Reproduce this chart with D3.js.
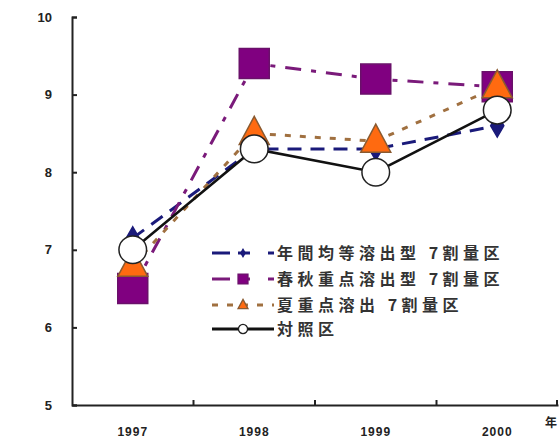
<!DOCTYPE html>
<html><head><meta charset="utf-8">
<script src="https://cdn.jsdelivr.net/npm/d3@7"></script>
<style>body{margin:0;background:#fff}</style>
</head><body>
<svg id="c" width="560" height="439"></svg>
<script>
const years = ["1997","1998","1999","2000"];
const yTicks = [5,6,7,8,9,10];
const seriesNames = ["年間均等溶出型 7割量区","春秋重点溶出型 7割量区","夏重点溶出 7割量区","対照区"];
const sKinmetsu = [7.15, 8.3, 8.3, 8.6];
const sShunju = [6.5, 9.4, 9.2, 9.1];
const sNatsu = [6.8, 8.5, 8.4, 9.1];
const sTaisho = [7.0, 8.3, 8.0, 8.8];

const svg = d3.select("#c");
const x = d3.scaleBand().domain(years).range([72, 558]);
const y = d3.scaleLinear().domain([5,10]).range([405, 17]);

// axes
const yAxis = svg.append("g").attr("transform","translate(72,0)")
  .call(d3.axisRight(y).tickValues(yTicks).tickSize(5).tickFormat(""));
yAxis.select(".domain").attr("stroke","#222").attr("stroke-width",2);
yAxis.selectAll(".tick line").attr("stroke","#222").attr("stroke-width",2);
svg.append("g").selectAll("text").data(yTicks).join("text")
  .attr("x",52).attr("y",d=>y(d)).attr("dy","0.35em").attr("text-anchor","end")
  .attr("font-family","Liberation Sans, Arial, sans-serif").attr("font-weight","bold")
  .attr("font-size",13).attr("fill","#222").text(d=>d);

const xAxis = svg.append("g").attr("transform","translate(0,405)")
  .call(d3.axisBottom(x).tickSize(0).tickFormat(""));
xAxis.select(".domain").attr("stroke","#222").attr("stroke-width",2);
svg.append("g").selectAll("line").data(years.slice(1).concat(["end"])).join("line")
  .attr("x1",(d,i)=> i<3 ? x(d) : x.range()[1]-1).attr("x2",(d,i)=> i<3 ? x(d) : x.range()[1]-1)
  .attr("y1",405).attr("y2",400).attr("stroke","#222").attr("stroke-width",2);
svg.append("g").selectAll("text").data(years).join("text")
  .attr("x",d=>x(d)+x.bandwidth()/2).attr("y",436).attr("text-anchor","middle")
  .attr("font-family","Liberation Sans, Arial, sans-serif").attr("font-weight","bold")
  .attr("font-size",12).attr("letter-spacing",1).attr("fill","#222").text(d=>d);
svg.append("text").attr("x",551).attr("y",427).attr("text-anchor","middle")
  .attr("font-family","Noto Sans CJK JP").attr("font-weight","bold").attr("font-size",12)
  .attr("fill","#222").text("年");

const cx = d => x(d)+x.bandwidth()/2;
const series = [
  {vals:sKinmetsu, color:"#1a1a7a", dash:"14,9", marker:"diamond", fill:"#1a1a7a", stroke:"#1a1a7a", w:3},
  {vals:sShunju, color:"#7a1a7a", dash:"16,10,5,10", marker:"square", fill:"#800080", stroke:"#6a106a", w:3},
  {vals:sNatsu, color:"#a07040", dash:"6,9", marker:"triangle", fill:"#ff6a10", stroke:"#8a5a30", w:3},
  {vals:sTaisho, color:"#111", dash:null, marker:"circle", fill:"#fff", stroke:"#222", w:2.5}
];
const line = d3.line().x((d,i)=>cx(years[i])).y(d=>y(d));
function markerPath(type){
  if(type==="diamond") return d3.symbol(d3.symbolDiamond, 150)();
  if(type==="square") return "M-15,-15H15V15H-15Z";
  if(type==="triangle") return "M0,-17L15,11H-15Z";
  return d3.symbol(d3.symbolCircle, 600)();
}
series.forEach(s=>{
  svg.append("path").attr("d",line(s.vals)).attr("fill","none")
    .attr("stroke",s.color).attr("stroke-width",s.w)
    .attr("stroke-dasharray",s.dash);
});
[0,1,2,3].forEach(k=>{
  const s = series[k];
  svg.append("g").selectAll("path").data(s.vals).join("path")
    .attr("transform",(d,i)=>`translate(${cx(years[i])},${y(d)})`)
    .attr("d",markerPath(s.marker)).attr("fill",s.fill)
    .attr("stroke",s.stroke).attr("stroke-width",1.5);
});

// legend
const lg = svg.append("g");
const rowsY = [253,279,305,329];
series.forEach((s,i)=>{
  const g = lg.append("g").attr("transform",`translate(0,${rowsY[i]})`);
  g.append("line").attr("x1",212).attr("x2",274).attr("y1",0).attr("y2",0)
    .attr("stroke",s.color).attr("stroke-width",3).attr("stroke-dasharray", s.dash ? (i===2?"6,9":"18,8,12") : null);
  g.append("path").attr("transform","translate(243,0) scale(0.33)")
    .attr("d",markerPath(s.marker)).attr("fill",s.fill).attr("stroke",s.stroke).attr("stroke-width",4);
  g.append("text").attr("x",277).attr("y",0).attr("dy","0.36em")
    .attr("font-family","Noto Sans CJK JP").attr("font-weight","bold").attr("font-size",16)
    .attr("letter-spacing",4.5).attr("fill","#333").text(seriesNames[i]);
});
</script>
</body></html>
